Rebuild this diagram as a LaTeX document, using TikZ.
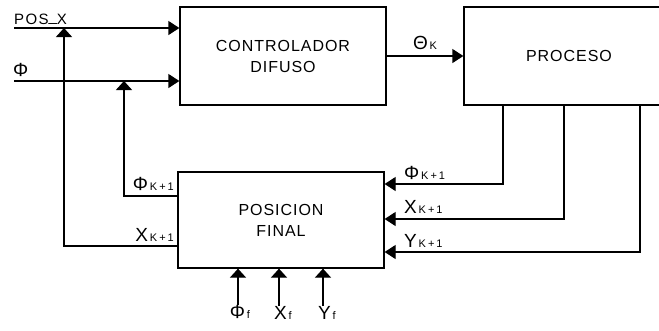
\documentclass[tikz,border=0pt]{standalone}
\usepackage{fontspec}
\setmainfont[LetterSpace=6]{Liberation Sans}
\usetikzlibrary{arrows.meta,positioning,calc}

% subindice pequeno sobre la linea base
\newcommand{\sbi}[1]{{\fontsize{11}{11}\selectfont\addfontfeature{LetterSpace=18}\,#1}}

\begin{document}
\begin{tikzpicture}[x=1pt, y=-1pt,
    bloque/.style={rectangle, draw, line width=1.3pt, inner sep=0pt, align=center, font=\fontsize{16}{21}\selectfont},
    linea/.style={line width=1.3pt},
    flecha/.style={linea, -{Triangle[length=11pt, width=14pt]}},
    flechav/.style={linea, -{Triangle[length=9pt, width=16pt]}},
    etiq/.style={inner sep=0pt, font=\fontsize{19}{19}\selectfont}
]
\useasboundingbox (0,0) rectangle (659,330);

% Bloques
\node[bloque, minimum width=206pt, minimum height=98pt] (ctrl) at (283,56) {CONTROLADOR\\DIFUSO};
\node[bloque, minimum width=210pt, minimum height=98pt] (proc) at (569,56) {PROCESO};
\node[bloque, minimum width=206pt, minimum height=96pt] (pos) at (281,220) {POSICION\\FINAL};

% Entradas
\coordinate (inx) at (14,28);
\coordinate (inphi) at (14,81);
\node[etiq, anchor=base west, font=\fontsize{15}{15}\selectfont\addfontfeature{LetterSpace=9}] (lposx) at (14,24) {POS\raisebox{2.5pt}{\_}X};
\node[etiq, anchor=base west] (lphi) at (13,76) {Φ};
\draw[flecha] (inx) -- (inx -| ctrl.west);
\draw[flecha] (inphi) -- (inphi -| ctrl.west);

% Realimentacion
\coordinate (fx) at (64,28);
\coordinate (fphi) at (124,81);
\draw[flechav] ([yshift=-26pt]pos.west) -| (fx);
\draw[flechav] ([yshift=24pt]pos.west) -| (fphi);
\node[etiq, anchor=base east] (lphik) at (174,190) {Φ\sbi{K+1}};
\node[etiq, anchor=base east] (lxk) at (174,241) {X\sbi{K+1}};

% Controlador -> proceso
\draw[flecha] (ctrl.east) -- (proc.west) node[etiq, midway, above=6pt] (ltheta) {Θ\sbi{K}};

% Salidas del proceso
\draw[flecha] ([xshift=-66pt]proc.south) |- ([yshift=36pt]pos.east);
\draw[flecha] ([xshift=-5pt]proc.south) |- ([yshift=1pt]pos.east);
\draw[flecha] ([xshift=71pt]proc.south) |- ([yshift=-32pt]pos.east);
\node[etiq, anchor=base west] (rphik) at (404,179) {Φ\sbi{K+1}};
\node[etiq, anchor=base west] (rxk) at (404,213) {X\sbi{K+1}};
\node[etiq, anchor=base west] (ryk) at (404,247) {Y\sbi{K+1}};

% Posicion final deseada
\node[etiq, anchor=north] (phif) at (240,305) {Φ\sbi{f}};
\node[etiq, anchor=north] (xf) at (283,306) {X\sbi{f}};
\node[etiq, anchor=north] (yf) at (327,306) {Y\sbi{f}};
\draw[flechav] ([xshift=-2pt]phif.north) -- ([xshift=-2pt]phif.north |- pos.south);
\draw[flechav] ([xshift=-4pt]xf.north) -- ([xshift=-4pt]xf.north |- pos.south);
\draw[flechav] ([xshift=-4pt]yf.north) -- ([xshift=-4pt]yf.north |- pos.south);

\end{tikzpicture}
\end{document}
